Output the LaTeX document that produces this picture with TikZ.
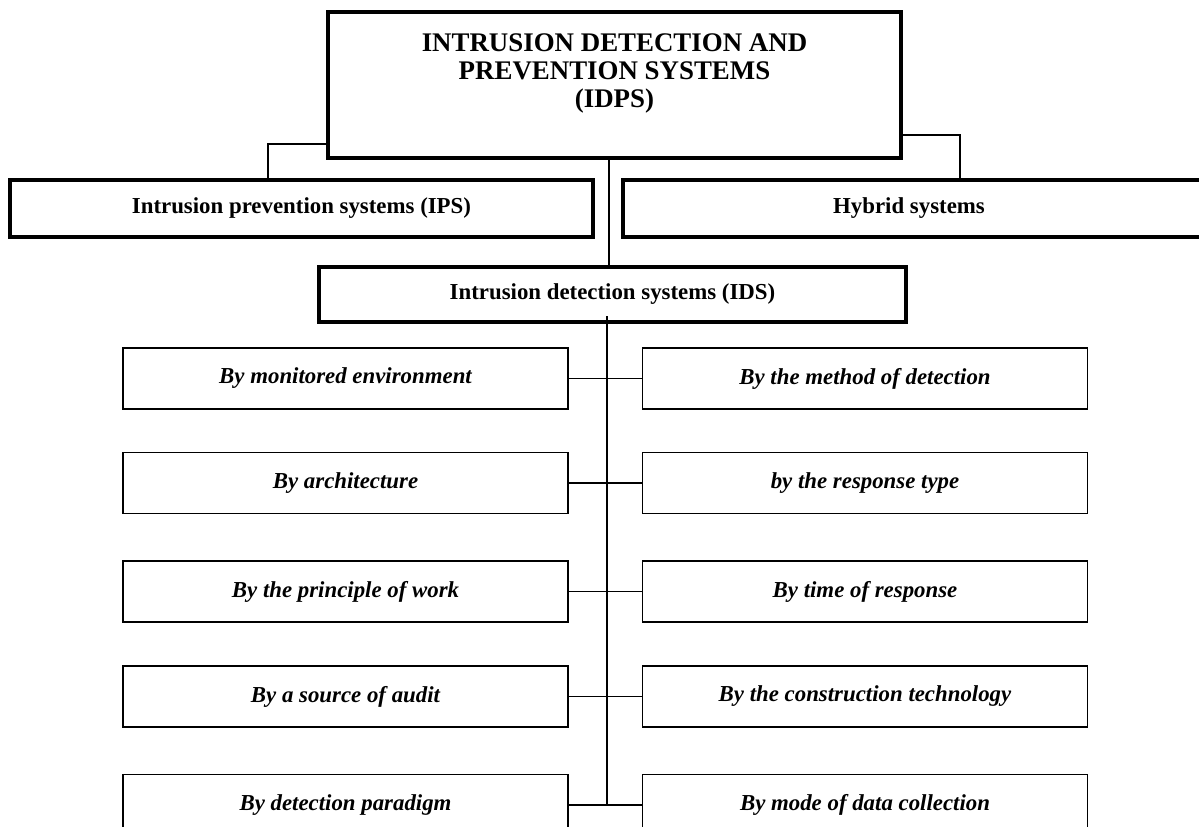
\documentclass[tikz,border=0pt]{standalone}
\usepackage{fontspec}
\setmainfont{Liberation Serif}
\usepackage{tikz}
\usetikzlibrary{positioning}

\begin{document}
\begin{tikzpicture}[
  mainbox/.style={rectangle,draw=black,line width=2.2pt,
                  minimum width=11.46cm,minimum height=2.92cm,inner sep=0pt},
  kindbox/.style={rectangle,draw=black,line width=2.2pt,
                  minimum height=1.14cm,inner sep=0pt,
                  font=\fontsize{13}{15}\selectfont\bfseries},
  critbox/.style={rectangle,draw=black,line width=1.1pt,
                  minimum width=8.9cm,minimum height=1.22cm,inner sep=0pt,
                  font=\fontsize{13}{15}\selectfont\bfseries\itshape},
  conn/.style={draw=black,line width=1.1pt},
]
\useasboundingbox (0,0) rectangle (23.98,-16.54);
\clip (0,0) rectangle (23.98,-16.54);

%% Top level: IDPS
\node[mainbox] (idps) at (12.29,-1.70) {};
\node[font=\fontsize{15.3}{16}\selectfont\bfseries,align=center,inner sep=0pt,
      below=0.46cm of idps.north] (idpstext)
      {INTRUSION DETECTION AND\\PREVENTION SYSTEMS\\(IDPS)};

% Kinds of systems
\node[kindbox,minimum width=11.66cm] (ips)    at (6.03,-4.17)  {Intrusion prevention systems (IPS)};
\node[kindbox,minimum width=11.84cm] (hybrid) at (18.38,-4.17) {\hspace*{-0.4cm}Hybrid systems};
\node[kindbox,minimum width=11.74cm,minimum height=1.10cm] (ids) at (12.25,-5.89)
      {Intrusion detection systems (IDS)};

% Links from IDPS
\draw[conn] ([yshift=-1.18cm]idps.west) -| ([xshift=-0.67cm]ips.north);
\draw[conn] ([yshift=-1.0cm]idps.east)  -| ([xshift=0.82cm]hybrid.north);
\draw[conn] ([xshift=-0.11cm]idps.south) -- ([xshift=-0.11cm]idps.south |- ids.north);

%% Classification criteria of IDS (left / right columns)
\node[critbox] (env)   at (6.91,-7.57)   {By monitored environment};
\node[critbox] (meth)  at (17.30,-7.57)  {By the method of detection};
\node[critbox] (arch)  at (6.91,-9.66)   {By architecture};
\node[critbox] (resp)  at (17.30,-9.66)  {by the response type};
\node[critbox] (work)  at (6.91,-11.83)  {By the principle of work};
\node[critbox] (time)  at (17.30,-11.83) {By time of response};
\node[critbox] (audit) at (6.91,-13.93)  {By a source of audit};
\node[critbox] (tech)  at (17.30,-13.93) {By the construction technology};
\node[critbox] (para)  at (6.91,-16.10)  {By detection paradigm};
\node[critbox] (coll)  at (17.30,-16.10) {By mode of data collection};

% Trunk and cross links
\coordinate (tk) at (12.14,-6.32);
\draw[conn] (tk) -- (tk |- para.east);
\draw[conn] (env.east)   -- (meth.west);
\draw[conn] (arch.east)  -- (resp.west);
\draw[conn] (work.east)  -- (time.west);
\draw[conn] (audit.east) -- (tech.west);
\draw[conn] (para.east)  -- (coll.west);

\end{tikzpicture}
\end{document}
